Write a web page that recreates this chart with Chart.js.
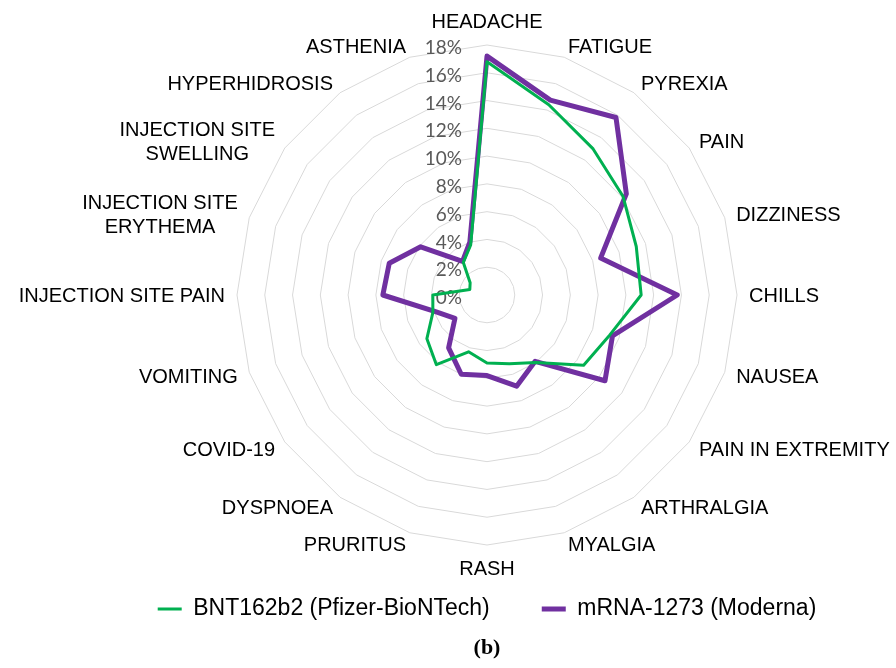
<!DOCTYPE html>
<html lang="en">
<head>
  <meta charset="UTF-8">
  <title>Adverse events by vaccine</title>
  <script src="https://cdn.jsdelivr.net/npm/chart.js"></script>
  <style>
    body { margin: 0; background: #fff; }
    .wrap { width: 896px; height: 668px; }
  </style>
</head>
<body>
  <div class="wrap"><canvas id="radarChart"></canvas></div>

<script>
  // categories, clockwise from the top
  const categories = [
    'HEADACHE', 'FATIGUE', 'PYREXIA', 'PAIN', 'DIZZINESS', 'CHILLS', 'NAUSEA',
    'PAIN IN EXTREMITY', 'ARTHRALGIA', 'MYALGIA', 'RASH', 'PRURITUS', 'DYSPNOEA',
    'COVID-19', 'VOMITING', 'INJECTION SITE PAIN', ['INJECTION SITE', 'ERYTHEMA'],
    ['INJECTION SITE', 'SWELLING'], 'HYPERHIDROSIS', 'ASTHENIA'
  ];

  // share of reports, %
  const pfizer = [16.8, 14.4, 13.0, 12.1, 11.3, 11.1, 9.3, 8.6, 6.0, 5.2,
                  4.9, 4.3, 6.2, 5.35, 4.1, 3.9, 1.3, 1.5, 2.9, 3.8];
  const moderna = [17.2, 14.75, 15.8, 12.4, 8.6, 13.7, 9.5, 10.5, 5.9, 6.9,
                   5.8, 6.0, 4.7, 2.85, 3.9, 7.5, 7.4, 5.9, 3.0, 4.0];

  const seriesNames = ['BNT162b2 (Pfizer-BioNTech)', 'mRNA-1273 (Moderna)'];
  const axisMax = 18;
  const axisStep = 2;
  const caption = '(b)';

  Chart.defaults.font.family = "'Liberation Sans', Arial, sans-serif";
  Chart.defaults.color = '#000';

  // Excel-like placement of the tick and category labels
  const excelLabels = {
    id: 'excelLabels',
    beforeDatasetsDraw(chart) {
      const s = chart.scales.r;
      const ctx = chart.ctx;
      ctx.save();
      ctx.font = '19px Lato';
      ctx.fillStyle = '#595959';
      ctx.textAlign = 'right';
      ctx.textBaseline = 'middle';
      s.ticks.forEach(t => {
        const y = s.yCenter - s.getDistanceFromCenterForValue(t.value) + 3;
        ctx.fillText(t.label, s.xCenter - 25, y);
      });
      ctx.restore();
    },
    afterDraw(chart) {
      const s = chart.scales.r;
      const ctx = chart.ctx;
      const n = chart.data.labels.length;
      ctx.save();
      ctx.font = "20px 'Liberation Sans'";
      ctx.fillStyle = '#000';
      ctx.textBaseline = 'alphabetic';
      ctx.textAlign = 'center';
      chart.data.labels.forEach((lab, i) => {
        const lines = [].concat(lab);
        const p = s.getPointPosition(i, s.drawingArea + 12);
        const deg = Math.round(i * 360 / n);
        const w = Math.max(...lines.map(l => ctx.measureText(l).width));
        let cx = p.x;
        if (deg > 0 && deg < 180) cx = p.x + w / 2;
        if (deg > 180) cx = p.x - w / 2;
        lines.forEach((l, k) => {
          let y;
          if (deg === 0) y = p.y - 5 - (lines.length - 1 - k) * 23.5;
          else if (deg === 180) y = p.y + 18 + k * 23.5;
          else y = p.y + 7 + (k - (lines.length - 1) / 2) * 23.5;
          ctx.fillText(l, cx, y);
        });
      });
      ctx.restore();
    }
  };

  new Chart(document.getElementById('radarChart'), {
    type: 'radar',
    data: {
      labels: categories,
      datasets: [{
        label: seriesNames[0],
        data: pfizer,
        borderColor: '#00B050',
        backgroundColor: '#00B050',
        borderWidth: 3,
        borderJoinStyle: 'round',
        fill: false,
        pointRadius: 0,
        pointHoverRadius: 0
      }, {
        label: seriesNames[1],
        data: moderna,
        borderColor: '#7030A0',
        backgroundColor: '#7030A0',
        borderWidth: 5,
        borderJoinStyle: 'round',
        fill: false,
        pointRadius: 0,
        pointHoverRadius: 0
      }]
    },
    options: {
      responsive: true,
      maintainAspectRatio: false,
      animation: false,
      layout: { padding: { top: 45, left: 87, right: 9, bottom: 6 } },
      scales: {
        r: {
          min: 0,
          max: axisMax,
          ticks: { stepSize: axisStep, display: false, callback: v => v + '%' },
          grid: { circular: false, color: '#d9d9d9', lineWidth: 1 },
          angleLines: { display: false },
          pointLabels: { display: false }
        }
      },
      plugins: {
        legend: {
          position: 'bottom',
          labels: {
            usePointStyle: true,
            pointStyle: 'line',
            pointStyleWidth: 24,
            padding: 52,
            color: '#000',
            font: { size: 23 }
          }
        },
        title: {
          display: true,
          position: 'bottom',
          text: caption,
          color: '#000',
          padding: { top: 5, bottom: 0 },
          font: { family: "'Liberation Serif', serif", size: 22, weight: 'bold' }
        },
        tooltip: { enabled: false }
      }
    },
    plugins: [excelLabels]
  });
</script>
</body>
</html>
